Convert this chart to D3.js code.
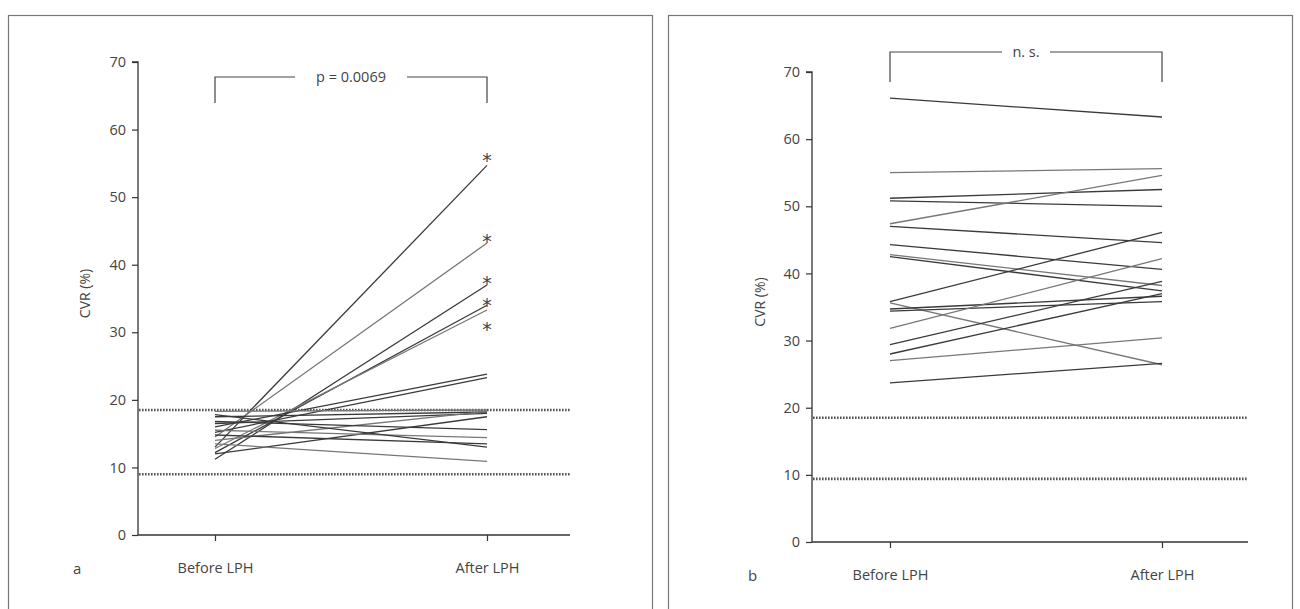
<!DOCTYPE html>
<html>
<head>
<meta charset="utf-8">
<script src="https://cdn.jsdelivr.net/npm/d3@7"></script>
<style>
  html, body { margin: 0; padding: 0; background: #fff; }
  svg { display: block; }
  text { font-family: "Open Sans", "Noto Sans", sans-serif; fill: #444; }
</style>
</head>
<body>
<div id="chart"></div>
<script>
// Data
const groups = ["Before LPH", "After LPH"];
const yTicks = [0, 10, 20, 30, 40, 50, 60, 70];
const normalBand = { a: [9.0, 18.5], b: [9.4, 18.5] };

// panel a: [before, after]
const pairsA = [
  [13.0, 54.7], [14.5, 43.2], [11.2, 37.0], [12.2, 34.0], [12.8, 33.3],
  [16.0, 23.8], [15.2, 23.3], [18.3, 18.5], [17.5, 18.2], [16.5, 18.0],
  [14.0, 18.3], [12.0, 17.5], [16.8, 15.6], [15.5, 14.4], [14.8, 13.5],
  [17.8, 13.0], [13.5, 10.9]
];
// after values marked with an asterisk
const starredA = [56.2, 44.3, 38.1, 34.8, 31.3];

// panel b: [before, after]
const pairsB = [
  [66.1, 63.3], [55.0, 55.6], [51.2, 52.5], [50.8, 50.0], [47.4, 54.6],
  [47.0, 44.6], [44.3, 40.6], [42.8, 38.2], [42.5, 37.4], [35.8, 46.1],
  [35.6, 26.4], [34.7, 36.6], [34.4, 35.8], [31.8, 42.2], [29.4, 38.8],
  [28.0, 37.0], [27.0, 30.4], [23.7, 26.6]
];

const W = 1300, H = 609;
const svg = d3.select("#chart").append("svg")
  .attr("width", W).attr("height", H);

// panel layout
const panels = [
  { id: "a", frame: [8, 15, 644, 620], axisX: 138, axisEnd: 570, x0: 215, x1: 487,
    yTop: 62, yBot: 535, brY: 77, brDrop: 26, label: "p = 0.0069", labelGap: 56,
    pairs: pairsA, stars: starredA, letterX: 73, ylabX: 90 },
  { id: "b", frame: [668, 15, 624, 620], axisX: 812, axisEnd: 1248, x0: 890, x1: 1162,
    yTop: 72, yBot: 542, brY: 52, brDrop: 30, label: "n. s.", labelGap: 24,
    pairs: pairsB, stars: [], letterX: 748, ylabX: 765 }
];

const fontSz = "14.5px";

panels.forEach(p => {
  const g = svg.append("g").attr("id", "panel-" + p.id);

  // frame
  g.append("rect")
    .attr("x", p.frame[0] + 0.5).attr("y", p.frame[1] + 0.5)
    .attr("width", p.frame[2]).attr("height", p.frame[3])
    .attr("fill", "none").attr("stroke", "#777").attr("stroke-width", 1.2);

  const x = d3.scalePoint().domain(groups).range([p.x0, p.x1]);
  const y = d3.scaleLinear().domain([0, 70]).range([p.yBot, p.yTop]);

  // y axis
  const yAxis = g.append("g")
    .attr("transform", `translate(${p.axisX},0)`)
    .call(d3.axisLeft(y).tickValues(yTicks).tickSize(6).tickPadding(6));
  yAxis.select(".domain").attr("stroke", "#333").attr("stroke-width", 1.3)
    .attr("d", `M-6,${y(70)}H0V${y(0)}`);
  yAxis.selectAll(".tick line").attr("stroke", "#333").attr("stroke-width", 1.2);
  yAxis.selectAll(".tick text").style("font-size", fontSz)
    .style("font-family", "'Open Sans', sans-serif").attr("fill", "#444");

  // x axis
  const xAxis = g.append("g")
    .attr("transform", `translate(0,${p.yBot})`)
    .call(d3.axisBottom(x).tickSize(6).tickPadding(22));
  xAxis.select(".domain").attr("stroke", "#333").attr("stroke-width", 1.3)
    .attr("d", `M${p.axisX},0H${p.axisEnd}`);
  xAxis.selectAll(".tick line").attr("stroke", "#333").attr("stroke-width", 1.2);
  xAxis.selectAll(".tick text").style("font-size", fontSz)
    .style("font-family", "'Open Sans', sans-serif").attr("fill", "#444");

  // axis title
  g.append("text")
    .attr("transform", `translate(${p.ylabX},${(p.yTop + p.yBot) / 2 - 5}) rotate(-90)`)
    .attr("text-anchor", "middle")
    .style("font-size", "14px")
    .text("CVR (%)");

  // panel letter
  g.append("text")
    .attr("x", p.letterX).attr("y", p.yBot + 39)
    .style("font-size", "15px").attr("fill", "#777")
    .text(p.id);

  // normal range lines (dotted)
  g.selectAll("line.band")
    .data(normalBand[p.id])
    .enter().append("line")
    .attr("class", "band")
    .attr("x1", p.axisX + 1).attr("x2", p.axisEnd)
    .attr("y1", d => y(d)).attr("y2", d => y(d))
    .attr("stroke", "#555").attr("stroke-width", 2.6)
    .attr("stroke-dasharray", "1.6,1.4");

  // subject lines
  g.selectAll("line.subj")
    .data(p.pairs)
    .enter().append("line")
    .attr("class", "subj")
    .attr("x1", x(groups[0])).attr("x2", x(groups[1]))
    .attr("y1", d => y(d[0])).attr("y2", d => y(d[1]))
    .attr("stroke", (d, i) => i % 3 === 1 ? "#777" : "#3a3a3a")
    .attr("stroke-width", 1.3);

  // asterisks
  g.selectAll("text.star")
    .data(p.stars)
    .enter().append("text")
    .attr("class", "star")
    .attr("x", x(groups[1])).attr("y", d => y(d) + 12)
    .attr("text-anchor", "middle")
    .style("font-family", "'DejaVu Sans', sans-serif")
    .style("font-size", "19px").attr("fill", "#666")
    .text("*");

  // significance bracket
  const mid = (p.x0 + p.x1) / 2;
  const gap = p.labelGap;
  g.append("path")
    .attr("d", `M${p.x0},${p.brY + p.brDrop}V${p.brY}H${mid - gap}M${mid + gap},${p.brY}H${p.x1}V${p.brY + p.brDrop}`)
    .attr("fill", "none").attr("stroke", "#444").attr("stroke-width", 1.2);
  g.append("text")
    .attr("x", mid).attr("y", p.brY + 5)
    .attr("text-anchor", "middle")
    .style("font-size", fontSz)
    .text(p.label);
});
</script>
</body>
</html>
